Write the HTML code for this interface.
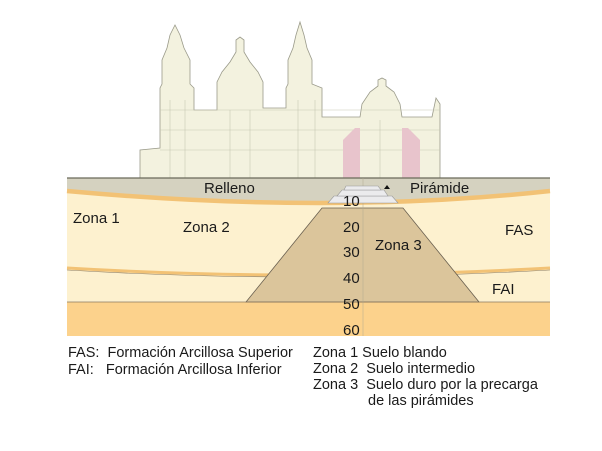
<!DOCTYPE html>
<html><head><meta charset="utf-8"><style>
html,body{margin:0;padding:0;background:#fff;}
svg{display:block;}
text{font-family:"Liberation Sans",Arial,sans-serif;fill:#1a1a1a;white-space:pre;}
</style></head><body>
<svg width="602" height="451" viewBox="0 0 602 451" xmlns="http://www.w3.org/2000/svg">
<rect width="602" height="451" fill="#fff"/>
<!-- building -->
<g fill="#f3f2df" stroke="#9a9a8a" stroke-width="0.8">
<path d="M140 179 L140 150 L160 148 L160 88 L162 84 L162 60 L167 48 L170 35 L175 25 L180 35 L184 48 L190 60 L190 84 L194 88 L194 110 L217 110 L217 82 L222 72 L230 62 L236 52 L236 40 L240 37 L244 40 L244 52 L250 62 L258 72 L263 82 L263 108 L286 108 L286 88 L288 84 L288 60 L293 48 L296 35 L300 22 L304 35 L307 48 L312 60 L312 84 L322 88 L322 117 L360 117 L362 104 L370 92 L378 86 L378 80 L382 78 L386 80 L386 86 L394 92 L400 104 L402 117 L432 117 L436 98 L440 104 L440 179 Z"/>
</g>
<g stroke="#c8c8b4" stroke-width="0.6" fill="none">
<path d="M160 110 H440 M160 130 H440 M160 150 H440 M170 100 V178 M185 100 V178 M230 110 V178 M250 110 V178 M298 100 V178 M315 100 V178 M380 120 V178"/>
</g>
<path d="M343 178 L343 140 L355 128 L360 128 L360 178 Z M402 178 L402 128 L408 128 L420 140 L420 178 Z" fill="#e8c4cc"/>
<!-- ground layers -->
<rect x="67" y="302" width="483" height="34" fill="#fcd28c"/>
<path d="M67 193 Q330 215 550 193 L550 302 L67 302 Z" fill="#fdf1cf"/>
<path d="M67 178 L550 178 L550 190 Q330 212 67 190 Z" fill="#d5d2c0"/>
<path d="M67 178 L550 178" stroke="#6a6a5a" stroke-width="1.2"/>
<path d="M67 191 Q330 215 550 191" stroke="#f2c275" stroke-width="4.5" fill="none"/>
<path d="M67 268 Q300 282 550 268" stroke="#f2c275" stroke-width="3" fill="none"/>
<path d="M67 270 Q300 284 550 270" stroke="#8a7a60" stroke-width="0.6" fill="none"/>
<!-- trapezoid zone 3 -->
<path d="M322 208 L403 208 L479 302 L246 302 Z" fill="#dbc59b" stroke="#6a6050" stroke-width="0.8"/>
<path d="M67 302 H550" stroke="#8a7a60" stroke-width="0.8"/>
<path d="M363 178 V336" stroke="#b0a890" stroke-width="0.5"/>
<!-- pyramid steps -->
<path d="M328 203 L334 196 L392 196 L398 203 Z" fill="#ebebed" stroke="#999" stroke-width="0.6"/>
<path d="M337 196 L342 190 L384 190 L388 196 Z" fill="#ebebed" stroke="#999" stroke-width="0.6"/>
<path d="M344 190 L346 186 L378 186 L381 190 Z" fill="#ebebed" stroke="#999" stroke-width="0.6"/>
<path d="M384 189 L387 185 L390 189 Z" fill="#111"/>
<g font-size="15">
<text x="204" y="193">Relleno</text>
<text x="410" y="193">Pirámide</text>
<text x="343" y="206">10</text>
<text x="343" y="232">20</text>
<text x="343" y="257">30</text>
<text x="343" y="283">40</text>
<text x="343" y="309">50</text>
<text x="343" y="335">60</text>
<text x="73" y="223">Zona 1</text>
<text x="183" y="232">Zona 2</text>
<text x="375" y="250">Zona 3</text>
<text x="505" y="235">FAS</text>
<text x="492" y="294">FAI</text>
</g>
<g font-size="14.5">
<text x="68" y="357">FAS:  Formación Arcillosa Superior</text>
<text x="68" y="374">FAI:   Formación Arcillosa Inferior</text>
<text x="313" y="357">Zona 1 Suelo blando</text>
<text x="313" y="373">Zona 2  Suelo intermedio</text>
<text x="313" y="389">Zona 3  Suelo duro por la precarga</text>
<text x="368" y="405">de las pirámides</text>
</g>
</svg>
</body></html>
